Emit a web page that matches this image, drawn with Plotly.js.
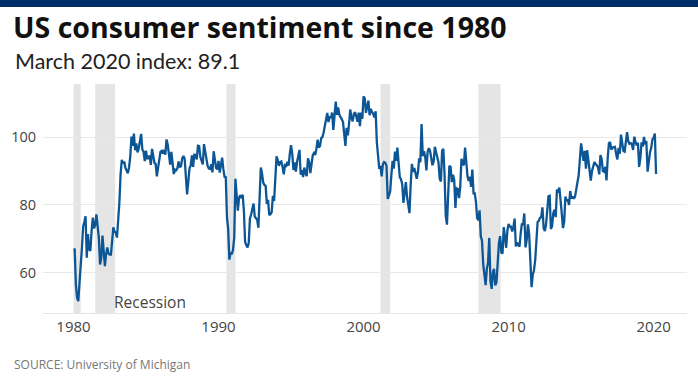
<!DOCTYPE html>
<html>
<head>
<meta charset="utf-8">
<script src="https://cdn.plot.ly/plotly-3.0.1.min.js"></script>
<style>html,body{margin:0;padding:0;background:#fff;}#chart{width:698px;height:392px;}</style>
</head>
<body>
<div id="chart"></div>
<script>
// Monthly index values, Jan 1980 - Mar 2020
const startYear = 1980;
const sentiment = [
 67.0,66.9,56.5,52.7,51.7,58.7,62.3,67.3,73.7,75.0,76.7,64.5,
 71.4,66.9,66.5,72.4,76.3,73.1,74.1,77.2,73.1,70.3,62.5,64.3,
 71.0,66.5,62.0,65.5,67.5,65.7,65.4,65.4,69.3,73.4,72.1,71.9,
 70.4,74.6,80.8,89.1,93.3,92.2,92.8,90.9,89.9,89.3,91.1,94.2,
 100.1,97.4,101.0,96.1,98.1,95.5,96.6,99.1,100.9,96.3,95.7,92.9,
 96.0,93.7,93.7,94.6,91.8,96.5,94.0,92.4,92.1,88.4,90.9,93.9,
 95.6,95.9,95.1,96.2,94.8,99.3,97.7,94.9,91.9,95.6,91.4,89.1,
 90.4,90.2,90.8,92.8,91.1,91.5,93.7,94.4,93.6,89.3,83.1,86.8,
 90.8,91.6,94.6,91.2,94.8,94.7,93.4,97.4,97.3,94.1,93.0,91.9,
 97.9,95.4,94.3,91.5,90.7,90.6,92.0,89.6,95.8,93.9,90.9,90.5,
 93.0,89.5,91.3,93.9,90.6,88.3,88.2,76.4,72.8,63.9,66.0,65.5,
 66.8,70.4,87.7,81.8,78.3,82.1,82.9,82.0,83.0,78.3,69.1,68.2,
 67.5,68.8,76.0,77.2,79.2,80.4,76.6,76.1,75.6,73.3,85.3,91.0,
 89.3,86.6,85.9,85.6,80.3,81.5,77.0,77.3,77.9,82.7,81.2,88.2,
 94.3,93.2,91.5,92.6,92.8,91.2,89.0,91.7,91.5,92.7,91.6,95.1,
 97.6,95.1,90.3,92.5,89.8,92.7,94.4,96.2,88.9,90.2,88.2,91.0,
 89.3,88.5,93.7,92.7,89.4,92.4,94.7,95.3,94.7,96.5,99.2,96.9,
 97.4,99.7,100.0,101.4,103.2,104.5,107.1,104.4,106.0,105.6,107.2,102.1,
 106.6,110.4,106.5,108.7,106.5,105.6,105.2,104.4,100.9,97.4,102.7,100.5,
 103.9,108.1,105.7,104.6,106.8,107.3,106.0,104.5,107.2,103.2,107.2,105.4,
 112.0,111.3,107.1,109.2,110.7,106.4,108.3,107.3,106.8,105.8,107.6,98.4,
 94.7,90.6,91.5,88.4,92.0,92.6,92.4,91.5,81.8,82.7,83.9,88.8,
 93.0,90.7,95.7,93.0,96.9,92.4,88.1,87.6,86.1,80.6,84.2,86.7,
 82.4,79.9,77.6,86.0,92.1,89.7,90.9,89.3,87.7,89.6,93.7,92.6,
 103.8,94.4,95.8,94.2,90.2,95.6,96.7,95.9,94.2,91.7,92.8,97.1,
 95.5,94.1,92.6,87.7,86.9,96.0,96.5,89.1,76.9,74.2,81.6,91.5,
 91.2,86.7,88.9,87.4,79.1,84.9,84.7,82.0,85.4,93.6,92.1,91.7,
 96.9,91.3,88.4,87.1,88.3,85.3,90.4,83.4,83.4,80.9,76.1,75.5,
 78.4,70.8,69.5,62.6,59.8,56.4,61.2,63.0,70.3,57.6,55.3,60.1,
 61.2,56.3,57.3,65.1,68.7,70.8,66.0,65.7,73.5,70.6,67.4,72.5,
 74.4,73.6,73.6,72.2,73.6,76.0,67.8,68.9,68.2,67.7,71.6,74.5,
 74.2,77.5,67.5,69.8,74.3,71.5,63.7,55.8,59.5,60.8,63.7,69.9,
 75.0,75.3,76.2,76.4,79.3,73.2,72.3,74.3,78.3,82.6,82.7,72.9,
 73.8,77.6,78.6,76.4,84.5,84.1,85.1,82.1,77.5,73.2,75.1,82.5,
 81.2,81.6,80.0,84.1,81.9,82.5,81.8,82.5,84.6,86.9,88.8,93.6,
 98.1,95.4,93.0,95.9,90.7,96.1,93.1,91.9,87.2,90.0,91.3,92.6,
 92.0,91.7,91.0,89.0,94.7,93.5,90.0,89.8,91.2,87.2,93.8,98.2,
 98.5,96.3,96.9,97.0,97.1,95.0,93.4,96.8,95.1,100.7,98.5,95.9,
 95.7,99.7,101.4,98.8,98.0,98.2,97.9,96.2,100.1,98.6,97.5,98.3,
 91.2,93.8,98.4,97.2,100.0,98.2,98.4,89.8,93.2,95.5,96.8,99.3,
 99.8,101.0,89.1
];
const recessionStart = [1980.0, 1981.5, 1990.55, 2001.17, 2007.92];
const recessionEnd   = [1980.5, 1982.87, 1991.17, 2001.83, 2009.45];
const xTicks = [1980, 1990, 2000, 2010, 2020];
const yTicks = [60, 80, 100];

const dates = sentiment.map((v, i) => startYear + i / 12);

const FONT = "'Open Sans', sans-serif";
const FONT2 = "Lato, 'Open Sans', sans-serif";
// plot area in px: left 43, right 687, top 84, bottom 313
const L = 43, R = 687, T = 84, B = 313, W = 698;
const pw = R - L, ph = B - T;
const px = v => (v - L) / pw;
const py = v => (B - v) / ph;

const shapes = recessionStart.map((s, i) => ({
  type: 'rect', xref: 'x', yref: 'paper', x0: s, x1: recessionEnd[i], y0: 0, y1: 1,
  fillcolor: '#e5e5e5', line: {width: 0}, layer: 'below'
}));
shapes.push({type: 'rect', xref: 'paper', yref: 'paper', x0: px(0), x1: px(W), y0: py(0), y1: py(7),
  fillcolor: '#002d6a', line: {width: 0}});

const layout = {
  width: 698, height: 392,
  margin: {l: L, r: W - R, t: T, b: 392 - B},
  paper_bgcolor: '#fff', plot_bgcolor: '#fff',
  showlegend: false,
  title: {text: '<b>US consumer sentiment since 1980</b>', font: {family: FONT, size: 28.5, color: '#111'},
    xref: 'container', yref: 'container', x: 13 / W, xanchor: 'left', y: 1 - 28 / 392, yanchor: 'middle'},
  xaxis: {range: [1977.9, 2022.3], tickvals: xTicks, ticktext: xTicks.map(String),
    showgrid: false, zeroline: false, showline: true, linecolor: '#e6e6e6', linewidth: 1,
    ticks: '', tickfont: {family: FONT, size: 15, color: '#444'}, fixedrange: true},
  yaxis: {range: [48.2, 115.6], tickvals: yTicks, showgrid: true, gridcolor: '#e8e8e8', gridwidth: 1,
    zeroline: false, showline: false, ticks: '', ticklabelstandoff: 6,
    tickfont: {family: FONT, size: 14.5, color: '#444'}, fixedrange: true},
  shapes: shapes,
  annotations: [
    {text: 'March 2020 index: 89.1', xref: 'paper', yref: 'paper', x: px(13), y: py(61),
      xanchor: 'left', yanchor: 'middle', showarrow: false, font: {family: FONT2, size: 21.5, color: '#222'}},
    {text: 'SOURCE: University of Michigan', xref: 'paper', yref: 'paper', x: px(12), y: py(364),
      xanchor: 'left', yanchor: 'middle', showarrow: false, font: {family: FONT, size: 12, color: '#777'}},
    {text: 'Recession', xref: 'x', yref: 'paper', x: recessionEnd[1] - 0.2, y: py(302),
      xanchor: 'left', yanchor: 'middle', showarrow: false, font: {family: FONT, size: 15.5, color: '#444'}}
  ]
};

Plotly.newPlot('chart', [{
  x: dates, y: sentiment, type: 'scatter', mode: 'lines',
  line: {color: '#0d5696', width: 2.3}, hoverinfo: 'skip'
}], layout, {staticPlot: true});
</script>
</body>
</html>
